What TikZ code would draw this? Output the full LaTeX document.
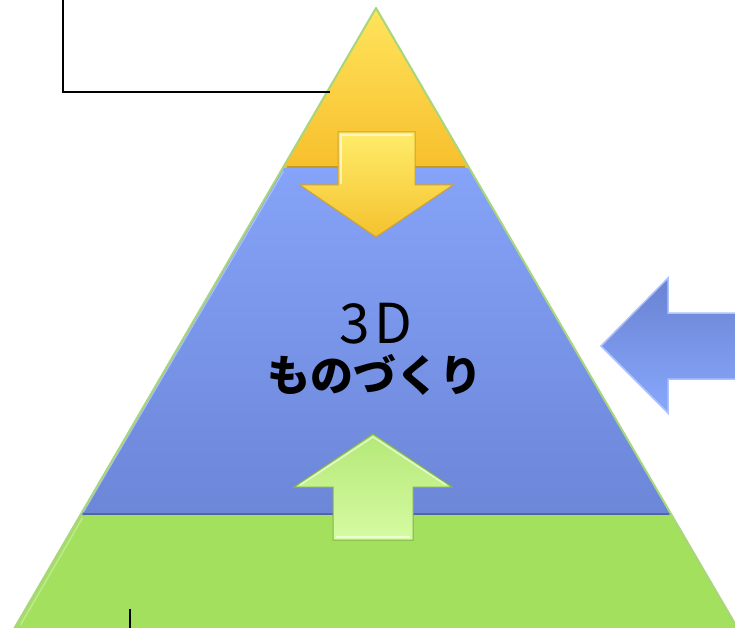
\documentclass[tikz,border=0pt]{standalone}
\usepackage{fontspec}
\newfontfamily\cjk{Noto Sans CJK JP}
\usetikzlibrary{calc}
\definecolor{outl}{HTML}{A9D67C}
\definecolor{ytop}{HTML}{FFE45C}
\definecolor{ybot}{HTML}{F7BF2C}
\definecolor{btop}{HTML}{85A3F8}
\definecolor{bbot}{HTML}{6C86D8}
\definecolor{gfill}{HTML}{A2E05E}
\definecolor{arrYtop}{HTML}{FFEC6A}
\definecolor{arrYbot}{HTML}{F4C22E}
\definecolor{arrGtop}{HTML}{B4E878}
\definecolor{arrGbot}{HTML}{D6FBA2}
\definecolor{arrBtop}{HTML}{6A82D2}
\definecolor{arrBbot}{HTML}{88A8FC}
\tikzset{
  band/.style={draw=none},
  conn/.style={draw=black, line width=1.1pt},
  bigarrow/.style={line width=1pt, line join=miter},
  hilite/.style={draw=white, opacity=0.6, line width=1.5pt},
}
\begin{document}
\begin{tikzpicture}[x=1pt,y=-1pt]
\useasboundingbox (0,0) rectangle (735,628);
\begin{scope}
\clip (0,0) rectangle (735,628);
% pyramid corners
\coordinate (apex) at (376,8);
\coordinate (yl) at (282.7,168);
\coordinate (yr) at (469.3,168);
\coordinate (bl) at (80.4,515);
\coordinate (br) at (671.6,515);
\coordinate (gl) at (14.5,628);
\coordinate (gr) at (737.5,628);
% bands
\shade[band, top color=ytop, bottom color=ybot] (apex) -- (yr) -- (yl) -- cycle;
\shade[band, top color=btop, bottom color=bbot] (yl) -- (yr) -- (br) -- (bl) -- cycle;
\fill[band, gfill] (bl) -- (br) -- (gr) -- (gl) -- cycle;
% bevel hints
\draw[color=ybot!80!black, line width=1.5pt] ($(yl)+(4,-1)$) -- ($(yr)+(-4,-1)$);
\draw[color=bbot!75!black, line width=2pt] ($(bl)+(3,-1)$) -- ($(br)+(-3,-1)$);
\draw[color=gfill!70!white, line width=1.5pt] ($(gl)+(6,-3)$) -- ($(bl)+(2,3)$);
\draw[color=btop!70!white, line width=1.2pt] ($(yl)+(1,3)$) -- ($(bl)+(3,-3)$);
% outline
\draw[outl, line width=2pt, line join=round] (apex) -- (gr) -- (gl) -- cycle;
% yellow down arrow
\shade[bigarrow, top color=arrYtop, bottom color=arrYbot, draw=ybot!85!black]
  (338,132) -- (415,132) -- (415,185) -- (453,185) -- (376,237) -- (300,185) -- (338,185) -- cycle;
\draw[hilite] (341,184) -- (341,135) -- (412,135);
% green up arrow
\shade[bigarrow, top color=arrGtop, bottom color=arrGbot, draw=gfill!80!black]
  (373,434) -- (452,487) -- (413,487) -- (413,540) -- (333,540) -- (333,487) -- (294,487) -- cycle;
\draw[hilite] (300,485) -- (373,437) -- (446,485);
\draw[hilite] (336,537) -- (410,537);
% blue left arrow
\shade[bigarrow, top color=arrBtop, bottom color=arrBbot, draw=arrBbot!70!white, line width=1.5pt]
  (601,346) -- (668,278) -- (668,313) -- (740,313) -- (740,379) -- (668,379) -- (668,413) -- cycle;
% connectors
\coordinate (ctop) at (63,-3);
\coordinate (cbend) at (63,92);
\coordinate (cend) at (330,92);
\draw[conn] (ctop) -- (cbend) -- (cend);
\coordinate (btick1) at (130,609);
\coordinate (btick2) at (130,632);
\draw[conn] (btick1) -- (btick2);
% text
\node[anchor=base, inner sep=0pt, font=\cjk\fontsize{55}{55}\selectfont] (t3d) at (376,343) {3\kern5pt D};
\node[anchor=base, inner sep=0pt, font=\cjk\bfseries\fontsize{43}{43}\selectfont] (tmono) at (375,391) {ものづくり};
\end{scope}
\end{tikzpicture}
\end{document}
